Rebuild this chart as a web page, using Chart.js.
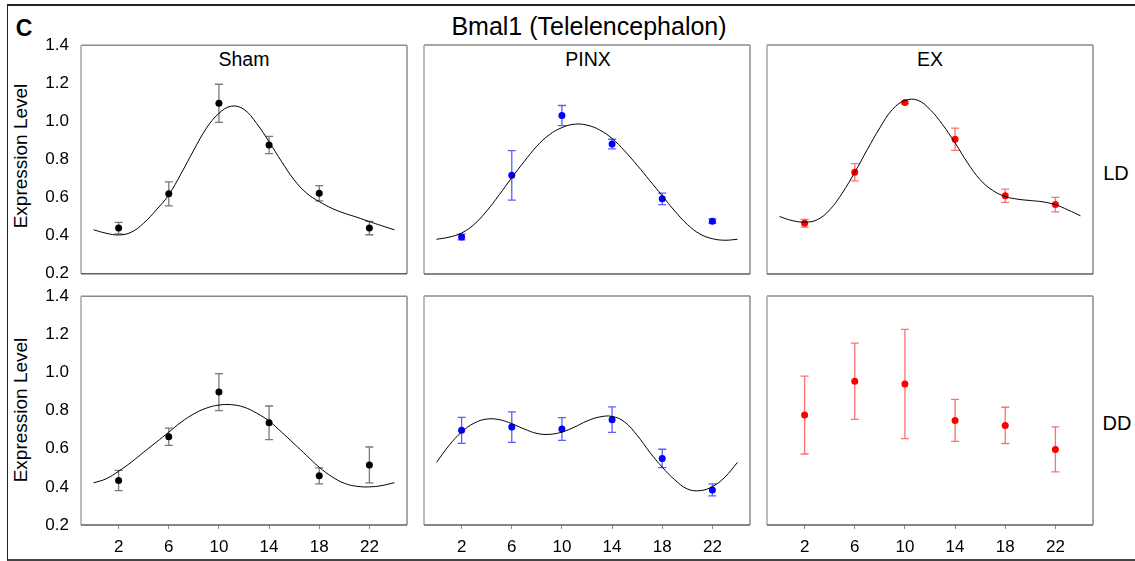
<!DOCTYPE html>
<html>
<head>
<meta charset="utf-8">
<script src="https://cdn.jsdelivr.net/npm/chart.js@4.4.1/dist/chart.umd.min.js"></script>
<style>
  body { margin: 0; background: #fff; }
  #fig { position: relative; width: 1135px; height: 561px; overflow: hidden; font-family: "Liberation Sans", Arial, sans-serif; }
  #frame { position: absolute; left: 7px; top: 4px; width: 1140px; height: 553px; border-top: 2px solid #222; border-left: 1.5px solid #222; border-bottom: 2px solid #444; }
  .txt { position: absolute; line-height: 1; white-space: nowrap; transform: translate(-50%, -50%); color: #000; }
  .rot { transform: translate(-50%, -50%) rotate(-90deg); }
  canvas { position: absolute; }
</style>
</head>
<body>
<div id="fig">
  <div id="frame"></div>
  <div class="txt" style="left:24px; top:28px; font-size:23px; font-weight:bold;">C</div>
  <div class="txt" style="left:589px; top:26px; font-size:25px;">Bmal1 (Telelencephalon)</div>
  <div class="txt" style="left:244px; top:60px; font-size:19.5px;">Sham</div>
  <div class="txt" style="left:588px; top:60px; font-size:19.5px;">PINX</div>
  <div class="txt" style="left:930px; top:60px; font-size:19.5px;">EX</div>
  <div class="txt" style="left:1116px; top:173px; font-size:20px;">LD</div>
  <div class="txt" style="left:1117px; top:423px; font-size:20px;">DD</div>
  <div class="txt rot" style="left:20px; top:156px; font-size:19px;">Expression Level</div>
  <div class="txt rot" style="left:20px; top:410px; font-size:19px;">Expression Level</div>
  <canvas id="c00"></canvas><canvas id="c01"></canvas><canvas id="c02"></canvas>
  <canvas id="c10"></canvas><canvas id="c11"></canvas><canvas id="c12"></canvas>
</div>
<script>
// sampling times (h)
const hours = [2, 6, 10, 14, 18, 22];
const fitHours = [0, 1, 2, 3, 4, 5, 6, 7, 8, 9, 10, 11, 12, 13, 14, 15, 16, 17, 18, 19, 20, 21, 22, 23, 24];
const yTicks = [0.2, 0.4, 0.6, 0.8, 1.0, 1.2, 1.4];

// LD row
const shamLDMean = [0.44, 0.62, 1.095, 0.876, 0.623, 0.44];
const shamLDErr = [0.03, 0.063, 0.10, 0.045, 0.04, 0.035];
const shamLDFit = [0.431, 0.413, 0.404, 0.418, 0.466, 0.535, 0.614, 0.728, 0.85, 0.964, 1.042, 1.08, 1.063, 0.99, 0.893, 0.789, 0.693, 0.623, 0.579, 0.544, 0.518, 0.497, 0.474, 0.452, 0.431];

const pinxLDMean = [0.394, 0.717, 1.03, 0.881, 0.594, 0.477];
const pinxLDErr = [0.015, 0.13, 0.053, 0.025, 0.03, 0.012];
const pinxLDFit = [0.382, 0.393, 0.415, 0.46, 0.53, 0.615, 0.705, 0.79, 0.87, 0.93, 0.967, 0.985, 0.98, 0.955, 0.91, 0.845, 0.77, 0.69, 0.61, 0.53, 0.46, 0.41, 0.385, 0.377, 0.382];

const exLDMean = [0.466, 0.733, 1.099, 0.906, 0.61, 0.564];
const exLDErr = [0.02, 0.045, 0.006, 0.058, 0.035, 0.038];
const exLDFit = [0.501, 0.48, 0.472, 0.484, 0.536, 0.624, 0.733, 0.852, 0.966, 1.062, 1.109, 1.111, 1.062, 0.983, 0.887, 0.782, 0.694, 0.638, 0.606, 0.592, 0.585, 0.578, 0.563, 0.536, 0.505];

// DD row
const shamDDMean = [0.433, 0.663, 0.897, 0.736, 0.458, 0.515];
const shamDDErr = [0.053, 0.045, 0.097, 0.088, 0.042, 0.094];
const shamDDFit = [0.421, 0.442, 0.482, 0.529, 0.582, 0.634, 0.687, 0.74, 0.783, 0.813, 0.829, 0.831, 0.818, 0.787, 0.745, 0.687, 0.626, 0.564, 0.503, 0.454, 0.419, 0.403, 0.4, 0.407, 0.422];

const pinxDDMean = [0.696, 0.713, 0.703, 0.752, 0.549, 0.384];
const pinxDDErr = [0.068, 0.08, 0.06, 0.067, 0.048, 0.031];
const pinxDDFit = [0.528, 0.617, 0.687, 0.734, 0.755, 0.752, 0.731, 0.703, 0.68, 0.675, 0.687, 0.713, 0.745, 0.766, 0.769, 0.74, 0.67, 0.582, 0.503, 0.437, 0.389, 0.38, 0.401, 0.451, 0.528];

const exDDMean = [0.776, 0.953, 0.939, 0.748, 0.722, 0.596];
const exDDErr = [0.204, 0.2, 0.286, 0.11, 0.095, 0.118];

Chart.defaults.font.family = '"Liberation Sans", Arial, sans-serif';
Chart.defaults.font.size = 17;
Chart.defaults.color = '#000';

const colLeft = [81, 424, 767];
const rowTop = [45, 296];
const boxW = 326, boxH = 229;

const panels = [
  { id: 'c00', r: 0, c: 0, mean: shamLDMean, err: shamLDErr, fit: shamLDFit, dot: '#000', bar: '#7a7a7a' },
  { id: 'c01', r: 0, c: 1, mean: pinxLDMean, err: pinxLDErr, fit: pinxLDFit, dot: '#0000ff', bar: '#5c5cff' },
  { id: 'c02', r: 0, c: 2, mean: exLDMean, err: exLDErr, fit: exLDFit, dot: '#ff0000', bar: '#ff7070' },
  { id: 'c10', r: 1, c: 0, mean: shamDDMean, err: shamDDErr, fit: shamDDFit, dot: '#000', bar: '#7a7a7a' },
  { id: 'c11', r: 1, c: 1, mean: pinxDDMean, err: pinxDDErr, fit: pinxDDFit, dot: '#0000ff', bar: '#5c5cff' },
  { id: 'c12', r: 1, c: 2, mean: exDDMean, err: exDDErr, fit: null, dot: '#ff0000', bar: '#ff7070' }
];

// draw error bars under the points
const errorBars = {
  id: 'errorBars',
  beforeDatasetsDraw(chart) {
    const p = chart.options.plugins.errorBars;
    const xs = chart.scales.x, ys = chart.scales.y, ctx = chart.ctx;
    ctx.save();
    ctx.strokeStyle = p.color;
    ctx.lineWidth = 1.3;
    p.x.forEach((hx, i) => {
      const x = xs.getPixelForValue(hx);
      const yHi = ys.getPixelForValue(p.mean[i] + p.err[i]);
      const yLo = ys.getPixelForValue(p.mean[i] - p.err[i]);
      ctx.beginPath();
      ctx.moveTo(x, yHi); ctx.lineTo(x, yLo);
      ctx.moveTo(x - 4, yHi); ctx.lineTo(x + 4, yHi);
      ctx.moveTo(x - 4, yLo); ctx.lineTo(x + 4, yLo);
      ctx.stroke();
    });
    ctx.restore();
  }
};

// panel frame
const panelBox = {
  id: 'panelBox',
  afterDraw(chart) {
    const a = chart.chartArea, ctx = chart.ctx;
    ctx.save();
    ctx.lineWidth = 1.5;
    const side = (color, x1, y1, x2, y2) => {
      ctx.strokeStyle = color;
      ctx.beginPath(); ctx.moveTo(x1, y1); ctx.lineTo(x2, y2); ctx.stroke();
    };
    side('#8a8a8a', a.left, a.top, a.right, a.top);
    side('#8a8a8a', a.right, a.top, a.right, a.bottom);
    side('#a6a6a6', a.left, a.top, a.left, a.bottom);
    side('#5e5e5e', a.left, a.bottom, a.right, a.bottom);
    ctx.restore();
  }
};

panels.forEach(p => {
  const showY = p.c === 0;
  const showX = p.r === 1;
  const yW = showY ? 50 : 2;
  const xH = showX ? 40 : 14;
  const canvas = document.getElementById(p.id);
  canvas.width = yW + boxW + 2;
  canvas.height = 14 + boxH + xH;

  const datasets = [];
  if (p.fit) {
    datasets.push({
      type: 'line',
      data: fitHours.map((h, i) => ({ x: h, y: p.fit[i] })),
      borderColor: '#000',
      borderWidth: 1,
      pointRadius: 0,
      tension: 0.4,
      fill: false
    });
  }
  datasets.push({
    type: 'scatter',
    data: hours.map((h, i) => ({ x: h, y: p.mean[i] })),
    pointRadius: 3.5,
    pointBackgroundColor: p.dot,
    pointBorderColor: p.dot,
    pointBorderWidth: 0,
    showLine: false
  });

  const chart = new Chart(canvas.getContext('2d'), {
    type: 'scatter',
    data: { datasets },
    options: {
      responsive: false,
      maintainAspectRatio: false,
      animation: false,
      devicePixelRatio: 1,
      layout: { padding: { top: 14, right: 2, left: showY ? 0 : 2, bottom: showX ? 0 : 14 } },
      plugins: {
        legend: { display: false },
        tooltip: { enabled: false },
        errorBars: { x: hours, mean: p.mean, err: p.err, color: p.bar }
      },
      scales: {
        x: {
          type: 'linear',
          min: -1, max: 25,
          display: showX,
          afterBuildTicks: s => { s.ticks = hours.map(v => ({ value: v })); },
          afterFit: s => { if (showX) s.height = 40; },
          grid: { drawOnChartArea: false, drawTicks: true, tickLength: 4, color: '#8a8a8a' },
          border: { display: false },
          ticks: { padding: 8, maxRotation: 0, callback: v => String(v) }
        },
        y: {
          type: 'linear',
          min: 0.2, max: 1.4,
          display: showY,
          afterBuildTicks: s => { s.ticks = yTicks.map(v => ({ value: v })); },
          afterFit: s => { if (showY) s.width = 50; },
          grid: { display: false, drawTicks: false },
          border: { display: false },
          ticks: { padding: 12, callback: v => v.toFixed(1) }
        }
      }
    },
    plugins: [errorBars, panelBox]
  });

  // make the plot area exactly boxW x boxH, then place it on the figure
  let a = chart.chartArea;
  const dw = Math.round(boxW - (a.right - a.left));
  const dh = Math.round(boxH - (a.bottom - a.top));
  if (dw !== 0 || dh !== 0) chart.resize(canvas.width + dw, canvas.height + dh);
  a = chart.chartArea;
  canvas.style.left = (colLeft[p.c] - a.left) + 'px';
  canvas.style.top = (rowTop[p.r] - a.top) + 'px';
});
</script>
</body>
</html>
